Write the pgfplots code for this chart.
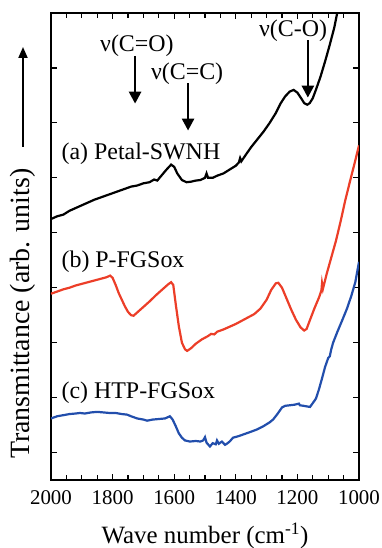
\documentclass[border=0pt]{standalone}
\usepackage{fontspec}
\setmainfont{Liberation Serif}
\usepackage{pgfplots}
\pgfplotsset{compat=1.18}
\usetikzlibrary{arrows.meta}
\definecolor{cred}{RGB}{236,62,40}
\definecolor{cblue}{RGB}{34,78,172}
\begin{document}
\begin{tikzpicture}
\useasboundingbox (-51bp,-68bp) rectangle (331bp,480bp);
\begin{axis}[
  scale only axis, width=308bp, height=467bp,
  at={(0,0)}, anchor=south west,
  x dir=reverse, xmin=1000, xmax=2000, ymin=-0.5, ymax=8,
  xtick={1000,1200,...,2000}, minor xtick={1050,1100,...,1950},
  ytick={0,...,7}, yticklabels={},
  tick align=inside, major tick length=6bp, minor tick length=5bp,
  axis line style={line width=1.3bp}, tick style={line width=1.2bp,black},
  /pgf/number format/assume math mode=true,
  /pgf/number format/1000 sep={},
  ticklabel style={font=\fontsize{21}{23}\selectfont},
  xticklabel style={anchor=base, yshift=-24bp},
  xlabel={Wave number (cm\textsuperscript{-1})},
  xlabel style={font=\fontsize{25}{27}\selectfont, at={(axis description cs:0.5,0)}, anchor=base, yshift=-63bp},
  clip=true,
]
\addplot[black, line width=2.2bp] coordinates {
(2000,4.25)(1980,4.30)(1960,4.33)(1940,4.40)(1920,4.45)(1900,4.50)(1880,4.55)(1860,4.60)
(1840,4.64)(1820,4.68)(1800,4.72)(1780,4.76)(1760,4.80)(1740,4.84)(1720,4.86)(1700,4.90)
(1680,4.92)(1665,4.97)(1655,4.95)(1640,5.05)(1625,5.15)(1610,5.24)(1600,5.20)(1590,5.08)
(1575,4.96)(1560,4.92)(1545,4.93)(1530,4.95)(1515,4.96)(1500,5.00)(1495,5.08)(1490,5.00)
(1475,5.00)(1460,5.04)(1440,5.08)(1420,5.15)(1400,5.22)(1390,5.28)(1386,5.36)(1382,5.30)
(1370,5.40)(1350,5.56)(1330,5.70)(1310,5.84)(1290,6.00)(1270,6.18)(1255,6.35)(1240,6.48)
(1225,6.57)(1212,6.60)(1200,6.55)(1188,6.45)(1178,6.36)(1168,6.33)(1160,6.36)(1150,6.45)
(1140,6.60)(1125,6.84)(1110,7.12)(1095,7.42)(1080,7.74)(1070,8.02)(1060,8.3)
};
\addplot[cred, line width=2.2bp] coordinates {
(2000,2.89)(1980,2.93)(1960,2.97)(1940,3.00)(1920,3.04)(1900,3.07)(1880,3.10)(1860,3.13)
(1840,3.16)(1820,3.19)(1808,3.22)(1800,3.18)(1790,3.05)(1780,2.90)(1770,2.78)(1760,2.66)
(1750,2.56)(1740,2.50)(1732,2.49)(1720,2.55)(1700,2.65)(1680,2.75)(1660,2.86)(1640,2.96)
(1620,3.06)(1610,3.10)(1603,3.05)(1595,2.70)(1585,2.30)(1575,2.00)(1565,1.88)(1558,1.85)
(1545,1.90)(1530,1.98)(1510,2.06)(1490,2.12)(1480,2.16)(1470,2.15)(1460,2.20)(1440,2.24)
(1420,2.29)(1400,2.34)(1380,2.40)(1360,2.46)(1340,2.52)(1320,2.62)(1300,2.78)(1285,2.96)
(1270,3.08)(1262,3.09)(1250,3.00)(1235,2.80)(1220,2.60)(1205,2.42)(1190,2.28)(1178,2.22)
(1170,2.25)(1160,2.40)(1145,2.62)(1130,2.82)(1122,2.95)(1120,3.08)(1117,2.98)(1105,3.25)
(1090,3.55)(1075,3.85)(1060,4.20)(1045,4.58)(1030,4.92)(1015,5.25)(1000,5.59)
};
\addplot[cblue, line width=2.2bp] coordinates {
(2000,0.62)(1980,0.66)(1960,0.68)(1940,0.70)(1920,0.71)(1906,0.72)(1890,0.71)(1870,0.73)
(1850,0.74)(1830,0.73)(1810,0.72)(1790,0.72)(1770,0.70)(1753,0.69)(1740,0.66)(1720,0.62)
(1700,0.60)(1688,0.58)(1670,0.60)(1650,0.61)(1630,0.62)(1614,0.66)(1605,0.60)(1595,0.48)
(1585,0.35)(1575,0.27)(1565,0.22)(1549,0.20)(1530,0.21)(1515,0.20)(1506,0.22)(1500,0.28)
(1495,0.18)(1484,0.11)(1475,0.17)(1465,0.15)(1461,0.22)(1455,0.16)(1445,0.20)(1435,0.14)
(1429,0.16)(1420,0.20)(1409,0.27)(1390,0.30)(1370,0.34)(1350,0.38)(1331,0.42)(1310,0.48)
(1290,0.55)(1279,0.60)(1265,0.70)(1250,0.82)(1240,0.85)(1225,0.86)(1210,0.87)(1195,0.89)
(1192,0.86)(1180,0.85)(1170,0.84)(1159,0.83)(1150,0.90)(1140,0.98)(1130,1.15)(1120,1.35)
(1110,1.56)(1100,1.72)(1095,1.75)(1090,1.88)(1084,2.00)(1070,2.20)(1055,2.40)(1039,2.62)
(1025,2.85)(1012,3.10)(1000,3.47)
};
\node[anchor=west, font=\fontsize{24}{26}\selectfont] at (axis cs:1977,5.44) {(a) Petal-SWNH};
\node[anchor=west, font=\fontsize{24}{26}\selectfont] at (axis cs:1977,3.47) {(b) P-FGSox};
\node[anchor=west, font=\fontsize{24}{26}\selectfont] at (axis cs:1977,1.09) {(c) HTP-FGSox};
\node[font=\fontsize{24}{26}\selectfont] at (axis cs:1721,7.40) {ν(C=O)};
\node[font=\fontsize{24}{26}\selectfont] at (axis cs:1558,6.90) {ν(C=C)};
\node[font=\fontsize{24}{26}\selectfont] at (axis cs:1214,7.68) {ν(C-O)};
\draw[line width=2.6bp, -{Triangle[length=12bp,width=12bp]}] (axis cs:1727,7.22) -- (axis cs:1727,6.35);
\draw[line width=2.6bp, -{Triangle[length=12bp,width=12bp]}] (axis cs:1555,6.72) -- (axis cs:1555,5.86);
\draw[line width=2.6bp, -{Triangle[length=12bp,width=12bp]}] (axis cs:1166,7.50) -- (axis cs:1166,6.46);
\end{axis}
\node[rotate=90, anchor=east, font=\fontsize{28}{30}\selectfont] at (-28bp,315bp) {Transmittance (arb. units)};
\draw[line width=2bp, -{Triangle[length=11bp,width=9bp]}] (-28bp,333bp) -- (-28bp,433bp);
\end{tikzpicture}
\end{document}
